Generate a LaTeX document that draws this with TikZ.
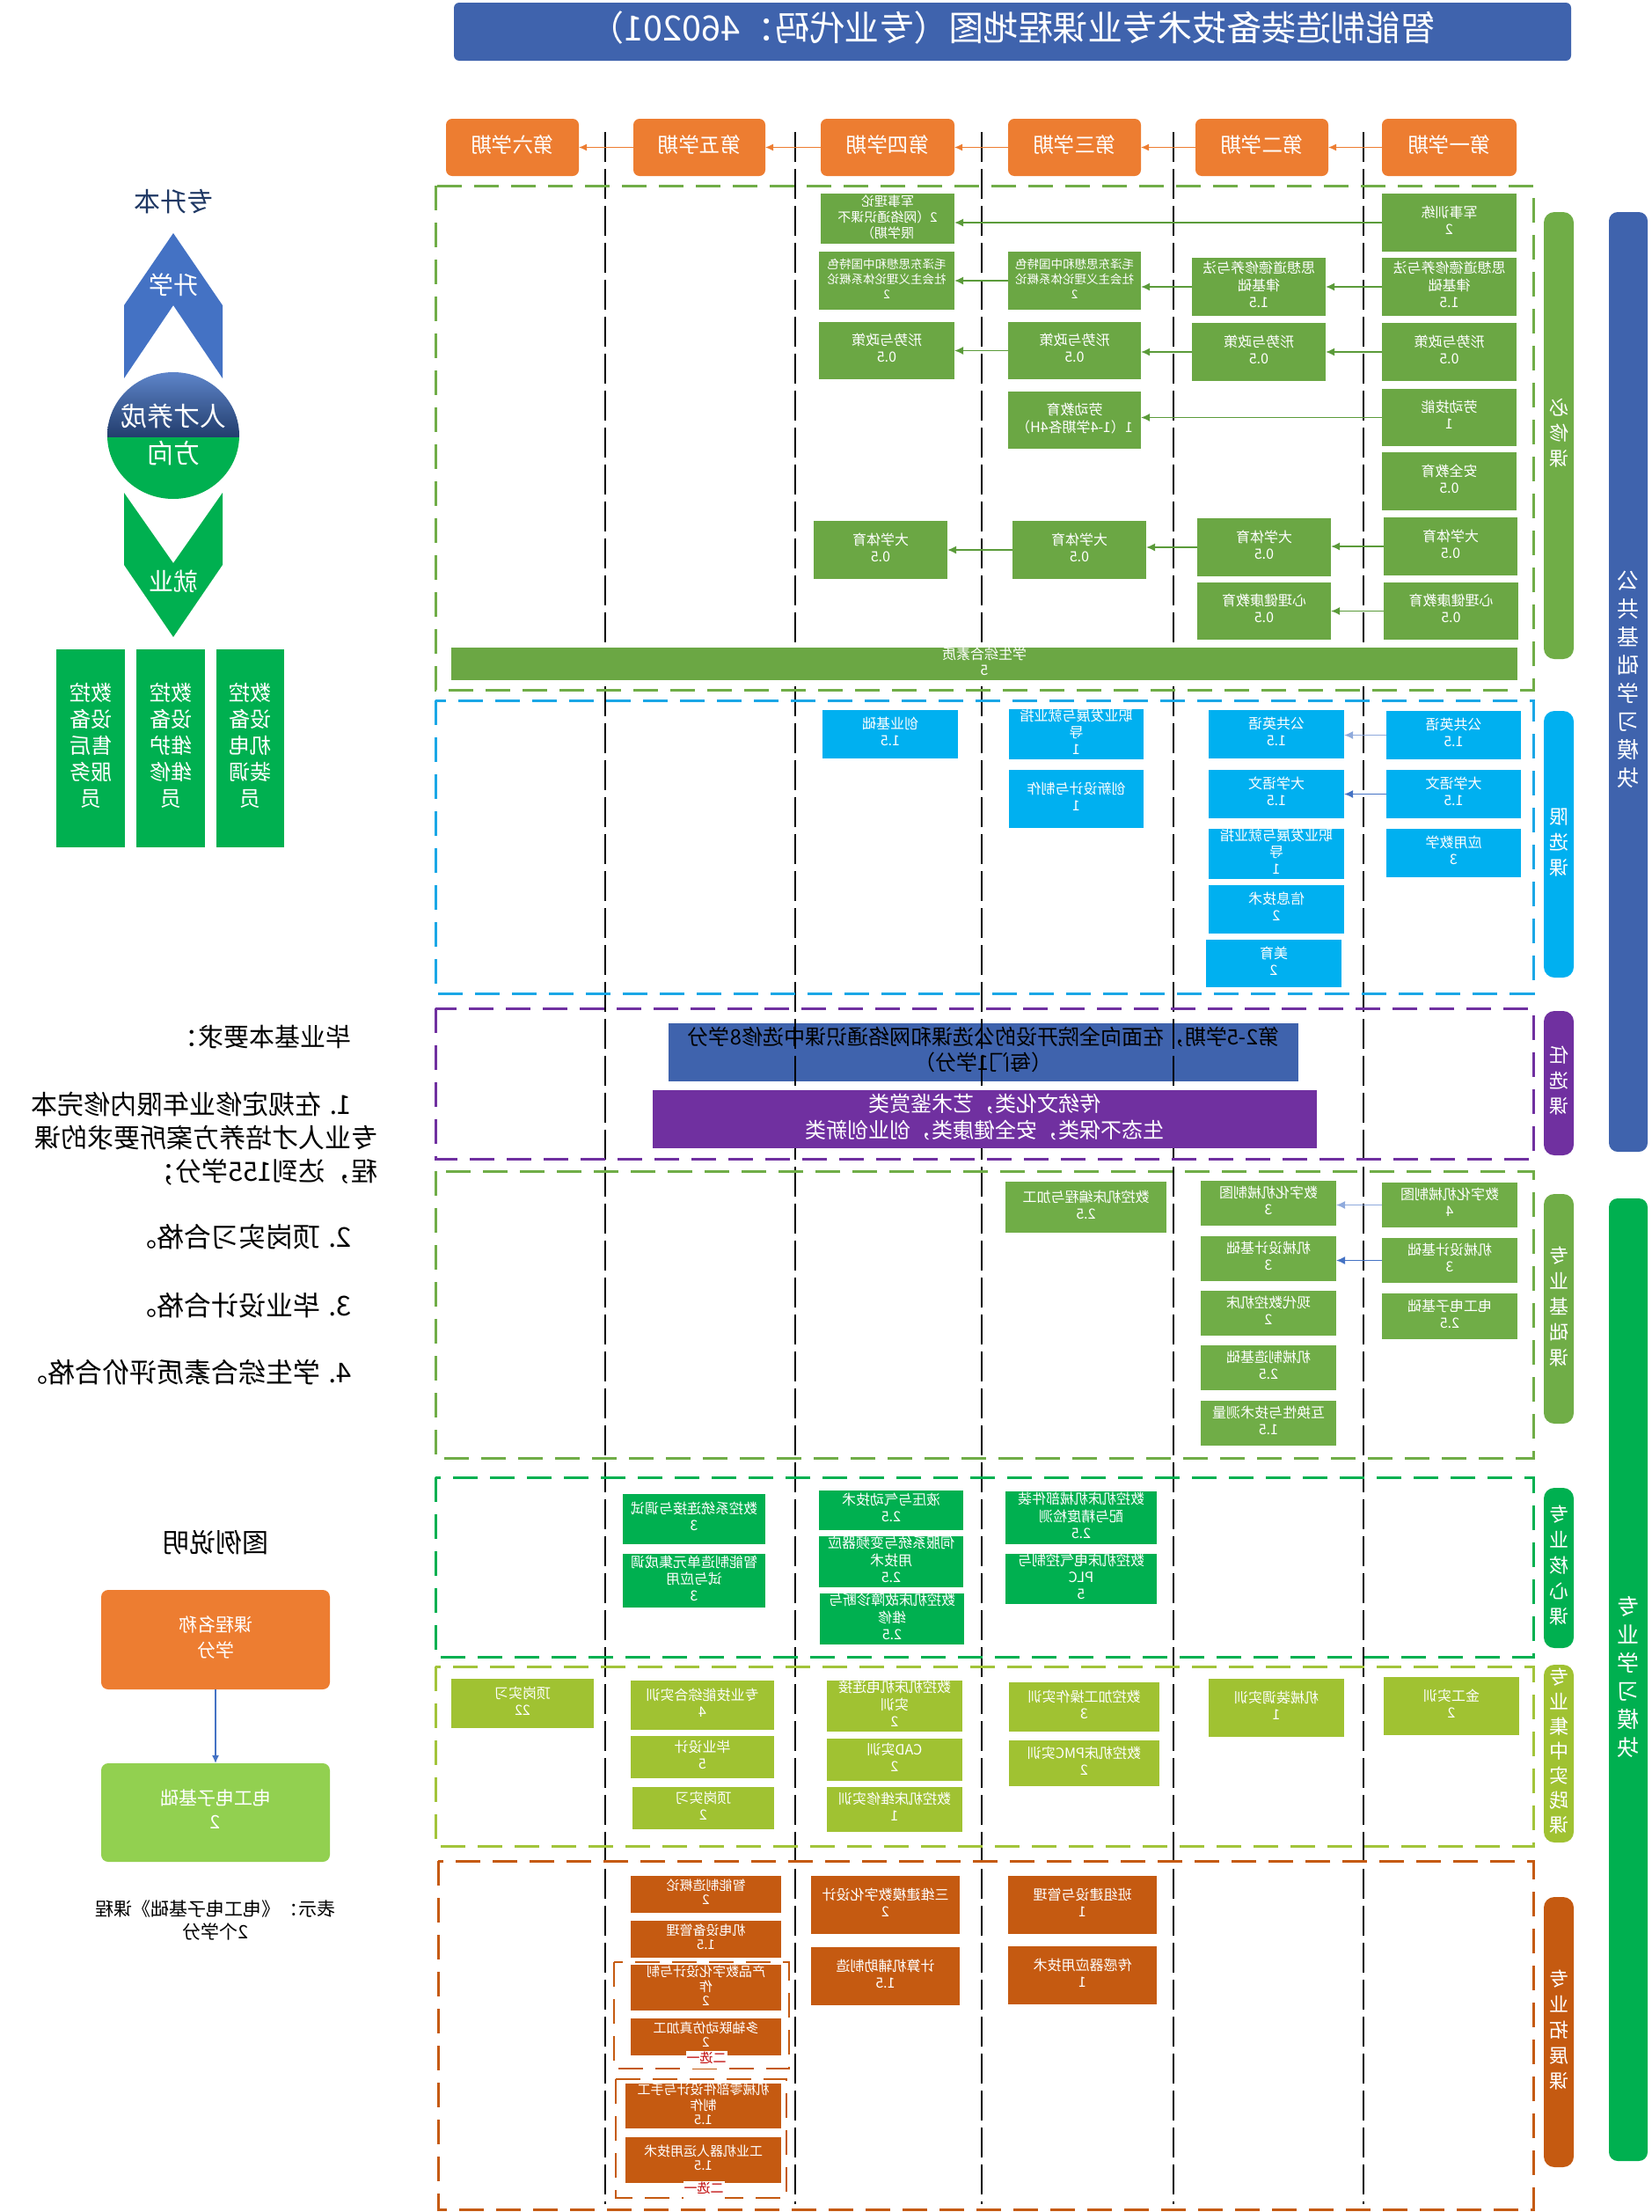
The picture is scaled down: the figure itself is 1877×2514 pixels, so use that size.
\documentclass[tikz,border=0pt]{standalone}
\usepackage{graphicx}
\usepackage{fontspec}
\setmainfont{Noto Sans CJK SC}
\usetikzlibrary{arrows.meta}
\newcommand\mt[2][c]{\reflectbox{\begin{tabular}{@{}#1@{}}#2\end{tabular}}}
\newcommand\cb[7]{\node[#1,minimum width={(#5-#3)*1pt},minimum height={(#6-#4)*1pt}] (#2) at ({(#3+#5)/2},{(#4+#6)/2}) {\mt{#7}};}
\definecolor{hdor}{HTML}{ED7D31}
\definecolor{tblue}{HTML}{3F63AD}
\definecolor{bxg}{HTML}{6BA744}
\definecolor{bxb}{HTML}{00B0F0}
\definecolor{bxg2}{HTML}{00B050}
\definecolor{bxl}{HTML}{A0C232}
\definecolor{bxo}{HTML}{C55A11}
\definecolor{purp}{HTML}{7030A0}
\definecolor{legg}{HTML}{92D050}
\definecolor{navy}{HTML}{1F3864}
\definecolor{ablue}{HTML}{4472C4}
\definecolor{lblue}{HTML}{8FAADC}
\definecolor{agreen}{HTML}{5B9B3A}
\definecolor{grpg}{HTML}{70AD47}
\definecolor{grpb}{HTML}{1AA7E6}
\definecolor{grpl}{HTML}{A2C43A}
\tikzset{
  box/.style={inner sep=0pt,outer sep=0pt,text=white,font=\fontsize{16}{19}\selectfont},
  hdr/.style={box,fill=hdor,rounded corners=7pt,font=\fontsize{23.5}{27}\selectfont},
  gb/.style={box,fill=bxg},
  bb/.style={box,fill=bxb},
  fb/.style={box,fill=grpg},
  cbx/.style={box,fill=bxg2},
  lb/.style={box,fill=bxl},
  ob/.style={box,fill=bxo},
  small/.style={font=\fontsize{15}{16}\selectfont},
  pill/.style={box,rounded corners=12pt,font=\fontsize{22}{29}\selectfont},
  modbar/.style={box,rounded corners=10pt,font=\fontsize{25}{32}\selectfont},
  coll/.style={black,line width=1.3pt,dash pattern=on 34pt off 8pt},
  grp/.style={line width=3pt,dash pattern=on 28pt off 14pt},
  harr/.style={draw=hdor,line width=1.2pt,-{Latex[length=9pt,width=8pt]}},
  arr/.style={line width=1.6pt,-{Latex[length=10pt,width=9pt]}},
  blk/.style={inner sep=0pt,text=black},
  xuan/.style={fill=white,text=red!75!black,inner sep=1pt,font=\fontsize{15}{17}\selectfont}
}
\begin{document}
\begin{tikzpicture}[x=1pt,y=-1pt]
\useasboundingbox (0,0) rectangle (1877,2514);
\fill[white] (0,0) rectangle (1877,2514);

% title
\cb{box,fill=tblue,rounded corners=6pt,font=\fontsize{39.5}{44}\selectfont}{title}{516}{3}{1786}{69}{智能制造装备技术专业课程地图（专业代码：460201）}

% task box under the column lines
\cb{box,fill=tblue,text=black,font=\fontsize{24}{28}\selectfont}{rx1}{760}{1163}{1476}{1229}{第2-5学期，在面向全院开设的公选课和网络通识课中选修8学分\\（每门1学分）}

% column lines
\foreach \cx in {688,904,1116,1334,1550}{\draw[coll] (\cx,150) -- (\cx,2505);}

% groups
\draw[grp,grpg] (495,211) rectangle (1743,784);
\draw[grp,grpb] (495,796) rectangle (1743,1129);
\draw[grp,purp] (495,1146) rectangle (1743,1317);
\draw[grp,grpg] (495,1331) rectangle (1743,1657);
\draw[grp,bxg2] (495,1679) rectangle (1743,1883);
\draw[grp,grpl] (495,1894) rectangle (1743,2098);
\draw[grp,bxo] (498,2115) rectangle (1743,2511);

% semesters
\cb{hdr}{s1}{1571}{135}{1724}{200}{第一学期}
\cb{hdr}{s2}{1359}{135}{1510}{200}{第二学期}
\cb{hdr}{s3}{1146}{135}{1297}{200}{第三学期}
\cb{hdr}{s4}{933}{135}{1085}{200}{第四学期}
\cb{hdr}{s5}{720}{135}{870}{200}{第五学期}
\cb{hdr}{s6}{507}{135}{658}{200}{第六学期}
\draw[harr] (s1.west) -- (s2.east);
\draw[harr] (s2.west) -- (s3.east);
\draw[harr] (s3.west) -- (s4.east);
\draw[harr] (s4.west) -- (s5.east);
\draw[harr] (s5.west) -- (s6.east);

% compulsory
\cb{gb}{jx1}{1571}{220}{1724}{286}{军事训练\\2}
\cb{gb}{sx1}{1571}{293}{1724}{359}{思想道德修养与法\\律基础\\1.5}
\cb{gb}{xs1}{1571}{367}{1724}{433}{形势与政策\\0.5}
\cb{gb}{ld1}{1571}{442}{1724}{507}{劳动技能\\1}
\cb{gb}{aq1}{1571}{514}{1724}{580}{安全教育\\0.5}
\cb{gb}{ty1}{1573}{588}{1725}{654}{大学体育\\0.5}
\cb{gb}{xl1}{1573}{662}{1726}{727}{心理健康教育\\0.5}
\cb{gb}{sx2}{1355}{293}{1507}{359}{思想道德修养与法\\律基础\\1.5}
\cb{gb}{xs2}{1355}{367}{1507}{433}{形势与政策\\0.5}
\cb{gb}{ty2}{1361}{589}{1513}{655}{大学体育\\0.5}
\cb{gb}{xl2}{1361}{662}{1513}{727}{心理健康教育\\0.5}
\cb{gb,font=\fontsize{13.5}{17}\selectfont}{mz3}{1146}{286}{1297}{352}{毛泽东思想和中国特色\\社会主义理论体系概论\\2}
\cb{gb}{xs3}{1146}{366}{1297}{431}{形势与政策\\0.5}
\cb{gb}{ld3}{1146}{445}{1297}{510}{劳动教育\\1（1-4学期各4H）}
\cb{gb}{ty3}{1151}{592}{1303}{658}{大学体育\\0.5}
\cb{gb,font=\fontsize{15}{17.5}\selectfont}{js4}{933}{220}{1085}{277}{军事理论\\2（网络通识课不\\限学期）}
\cb{gb,font=\fontsize{13.5}{17}\selectfont}{mz4}{931}{286}{1085}{352}{毛泽东思想和中国特色\\社会主义理论体系概论\\2}
\cb{gb}{xs4}{931}{366}{1085}{431}{形势与政策\\0.5}
\cb{gb}{ty4}{925}{592}{1077}{658}{大学体育\\0.5}
\cb{gb,font=\fontsize{16}{18}\selectfont}{zh}{513}{736}{1725}{772}{学生综合素质\\5}
\draw[arr,agreen] (jx1.west) -- (jx1.west -| js4.east);
\draw[arr,agreen] (sx1.west) -- (sx1.west -| sx2.east);
\draw[arr,agreen] (sx2.west) -- (sx2.west -| mz3.east);
\draw[arr,agreen] (mz3.west) -- (mz3.west -| mz4.east);
\draw[arr,agreen] (xs1.west) -- (xs1.west -| xs2.east);
\draw[arr,agreen] (xs2.west) -- (xs2.west -| xs3.east);
\draw[arr,agreen] (xs3.west) -- (xs3.west -| xs4.east);
\draw[arr,agreen] (ld1.west) -- (ld1.west -| ld3.east);
\draw[arr,agreen] (ty1.west) -- (ty1.west -| ty2.east);
\draw[arr,agreen] (ty2.west) -- (ty2.west -| ty3.east);
\draw[arr,agreen] (ty3.west) -- (ty3.west -| ty4.east);
\draw[arr,agreen] (xl1.west) -- (xl1.west -| xl2.east);

% limited electives
\cb{bb}{gy1}{1576}{808}{1729}{863}{公共英语\\1.5}
\cb{bb}{yw1}{1576}{875}{1729}{930}{大学语文\\1.5}
\cb{bb}{sxx1}{1576}{942}{1729}{997}{应用数学\\3}
\cb{bb}{gy2}{1374}{807}{1528}{862}{公共英语\\1.5}
\cb{bb}{yw2}{1374}{875}{1528}{930}{大学语文\\1.5}
\cb{bb}{zy2}{1374}{943}{1528}{998}{职业发展与就业指\\导\\1}
\cb{bb}{xx2}{1374}{1006}{1528}{1061}{信息技术\\2}
\cb{bb}{my2}{1371}{1068}{1525}{1122}{美育\\2}
\cb{bb}{zy3}{1147}{807}{1300}{862}{职业发展与就业指\\导\\1}
\cb{bb}{cx3}{1147}{875}{1300}{941}{创新设计与制作\\1}
\cb{bb}{cy4}{935}{807}{1089}{862}{创业基础\\1.5}
\draw[arr,lblue] (gy1.west) -- (gy1.west -| gy2.east);
\draw[arr,ablue] (yw1.west) -- (yw1.west -| yw2.east);

% free electives
\cb{box,fill=purp,font=\fontsize{24}{30}\selectfont}{rx2}{742}{1239}{1497}{1305}{传统文化类，艺术鉴赏类\\生态不保类，安全健康类，创业创新类}

% professional basics
\cb{fb}{zt1}{1571}{1344}{1725}{1395}{数字化机械制图\\4}
\cb{fb}{jj1}{1571}{1407}{1725}{1458}{机械设计基础\\3}
\cb{fb}{dg1}{1571}{1470}{1725}{1522}{电工电子基础\\2.5}
\cb{fb}{zt2}{1365}{1342}{1519}{1393}{数字化机械制图\\3}
\cb{fb}{jj2}{1365}{1405}{1519}{1456}{机械设计基础\\3}
\cb{fb}{xd2}{1365}{1467}{1519}{1518}{现代数控机床\\2}
\cb{fb}{jz2}{1365}{1529}{1519}{1580}{机械制造基础\\2.5}
\cb{fb}{hh2}{1365}{1592}{1519}{1643}{互换性与技术测量\\1.5}
\cb{fb}{bc3}{1143}{1343}{1326}{1401}{数控机床编程与加工\\2.5}
\draw[arr,lblue] (zt1.west) -- (zt1.west -| zt2.east);
\draw[arr,ablue] (jj1.west) -- (jj1.west -| jj2.east);

% core
\cb{cbx}{hx1}{1143}{1695}{1315}{1755}{数控机床机械部件装\\配与精度检测\\2.5}
\cb{cbx}{hx2}{1143}{1766}{1315}{1823}{数控机床电气控制与\\PLC\\5}
\cb{cbx}{hx3}{931}{1694}{1095}{1739}{液压与气动技术\\2.5}
\cb{cbx}{hx4}{931}{1747}{1095}{1803}{伺服系统与变频器应\\用技术\\2.5}
\cb{cbx}{hx5}{932}{1812}{1096}{1868}{数控机床故障诊断与\\维修\\2.5}
\cb{cbx}{hx6}{708}{1698}{870}{1755}{数控系统连接与调试\\3}
\cb{cbx}{hx7}{708}{1766}{870}{1827}{智能制造单元集成调\\试与应用\\3}

% practice
\cb{lb}{sj1}{1573}{1906}{1727}{1972}{金工实训\\2}
\cb{lb}{sj2}{1374}{1908}{1528}{1974}{机械装调实训\\1}
\cb{lb}{sj3}{1147}{1912}{1318}{1968}{数控加工操作实训\\3}
\cb{lb}{sj4}{1147}{1978}{1318}{2030}{数控机床PMC实训\\2}
\cb{lb}{sj5}{940}{1911}{1094}{1967}{数控机床机电连接\\实训\\2}
\cb{lb}{sj6}{940}{1976}{1094}{2024}{CAD实训\\2}
\cb{lb}{sj7}{940}{2031}{1094}{2082}{数控机床维修实训\\1}
\cb{lb}{sj8}{717}{1910}{880}{1966}{专业技能综合实训\\4}
\cb{lb}{sj9}{717}{1973}{880}{2021}{毕业设计\\5}
\cb{lb}{sj10}{719}{2031}{880}{2079}{顶岗实习\\2}
\cb{lb}{sj11}{513}{1908}{675}{1964}{顶岗实习\\22}

% extension
\cb{ob}{tz1}{1146}{2132}{1315}{2198}{班组建设与管理\\1}
\cb{ob}{tz2}{1146}{2212}{1315}{2278}{传感器应用技术\\1}
\cb{ob}{tz3}{922}{2132}{1091}{2198}{三维建模数字化设计\\2}
\cb{ob}{tz4}{922}{2213}{1091}{2279}{计算机辅助制造\\1.5}
\cb{ob,small}{tz5}{717}{2132}{888}{2174}{智能制造概论\\2}
\cb{ob,small}{tz6}{717}{2183}{888}{2225}{机电设备管理\\1.5}
\draw[grp,line width=2.5pt,bxo] (698,2230) rectangle (897,2351);
\draw[grp,line width=2.5pt,bxo] (700,2363) rectangle (894,2498);
\cb{ob,small}{tz7}{717}{2233}{888}{2285}{产品数字化设计与制\\作\\2}
\cb{ob,small}{tz8}{717}{2294}{888}{2336}{多轴联动仿真加工\\2}
\cb{ob,small}{tz9}{711}{2368}{888}{2419}{机械零部件设计与手工\\制作\\1.5}
\cb{ob,small}{tz10}{711}{2429}{888}{2481}{工业机器人运用技术\\1.5}
\node[xuan] (xa) at (803,2341) {\mt{二选一}};
\node[xuan] (xb) at (800,2489) {\mt{二选一}};

% category pills
\cb{pill,fill=grpg}{p1}{1755}{241}{1789}{749}{必\\修\\课}
\cb{pill,fill=bxb}{p2}{1755}{808}{1789}{1111}{限\\选\\课}
\cb{pill,fill=purp}{p3}{1755}{1149}{1789}{1313}{任\\选\\课}
\cb{pill,fill=grpg}{p4}{1755}{1357}{1789}{1618}{专\\业\\基\\础\\课}
\cb{pill,fill=bxg2}{p5}{1755}{1691}{1789}{1873}{专\\业\\核\\心\\课}
\cb{pill,fill=bxl,font=\fontsize{22}{28}\selectfont}{p6}{1755}{1892}{1789}{2094}{专\\业\\集\\中\\实\\践\\课}
\cb{pill,fill=bxo}{p7}{1755}{2156}{1789}{2463}{专\\业\\拓\\展\\课}
\cb{modbar,fill=tblue}{m1}{1829}{241}{1873}{1309}{公\\共\\基\\础\\学\\习\\模\\块}
\cb{modbar,fill=bxg2}{m2}{1829}{1362}{1873}{2456}{专\\业\\学\\习\\模\\块}

% left: directions
\node[blk,text=navy,font=\fontsize{30}{34}\selectfont] (zsb) at (197,233) {\mt{专升本}};
\fill[ablue] (141,430) -- (141,347) -- (197,265) -- (253,347) -- (253,430) -- (197,347) -- cycle;
\node[box,font=\fontsize{28}{32}\selectfont] (sx) at (197,327) {\mt{升学}};
\begin{scope}
\clip (197,495) ellipse [x radius=75, y radius=72];
\fill[bxg2] (120,495) rectangle (275,570);
\shade[top color=ablue!85!white,bottom color=navy!90!ablue] (120,420) rectangle (275,496);
\end{scope}
\node[box,font=\fontsize{30}{42}\selectfont] (ell) at (197,497) {\mt{人才养成\\方向}};
\fill[bxg2] (141,560) -- (197,640) -- (253,560) -- (253,642) -- (197,724) -- (141,642) -- cycle;
\node[box,font=\fontsize{28}{32}\selectfont] (jy) at (197,665) {\mt{就业}};
\cb{box,fill=bxg2,font=\fontsize{24}{30}\selectfont}{jb1}{64}{738}{142}{963}{数控\\设备\\售后\\服务\\员}
\cb{box,fill=bxg2,font=\fontsize{24}{30}\selectfont}{jb2}{155}{738}{233}{963}{数控\\设备\\维护\\维修\\员}
\cb{box,fill=bxg2,font=\fontsize{24}{30}\selectfont}{jb3}{246}{738}{323}{963}{数控\\设备\\机电\\装调\\员}

% graduation requirements
\node[blk,anchor=east,font=\fontsize{29}{34}\selectfont] (g0) at (400,1182) {\mt{毕业基本要求：}};
\node[blk,anchor=east,font=\fontsize{30}{38}\selectfont] (g1) at (430,1297) {\mt[l]{\hspace*{30pt}1. 在规定修业年限内修完本\\专业人才培养方案所要求的课\\程，达到155学分；}};
\node[blk,anchor=east,font=\fontsize{31}{36}\selectfont] (g2) at (400,1410) {\mt{2. 顶岗实习合格。}};
\node[blk,anchor=east,font=\fontsize{31}{36}\selectfont] (g3) at (400,1488) {\mt{3. 毕业设计合格。}};
\node[blk,anchor=east,font=\fontsize{31}{36}\selectfont] (g4) at (400,1564) {\mt{4. 学生综合素质评价合格。}};

% legend
\node[blk,font=\fontsize{30}{34}\selectfont] (lgt) at (245,1757) {\mt{图例说明}};
\cb{box,fill=hdor,rounded corners=8pt,font=\fontsize{21}{29}\selectfont}{leg1}{115}{1807}{375}{1920}{课程名称\\学分}
\cb{box,fill=legg,rounded corners=8pt,font=\fontsize{21}{27}\selectfont}{leg2}{115}{2004}{375}{2116}{电工电子基础\\2}
\draw[ablue,line width=1.3pt,-{Latex[length=9pt,width=8pt]}] (leg1.south) -- (leg2.north);
\node[blk,font=\fontsize{21}{26}\selectfont] (lgd) at (245,2185) {\mt{表示：《电工电子基础》课程\\2个学分}};
\end{tikzpicture}
\end{document}
